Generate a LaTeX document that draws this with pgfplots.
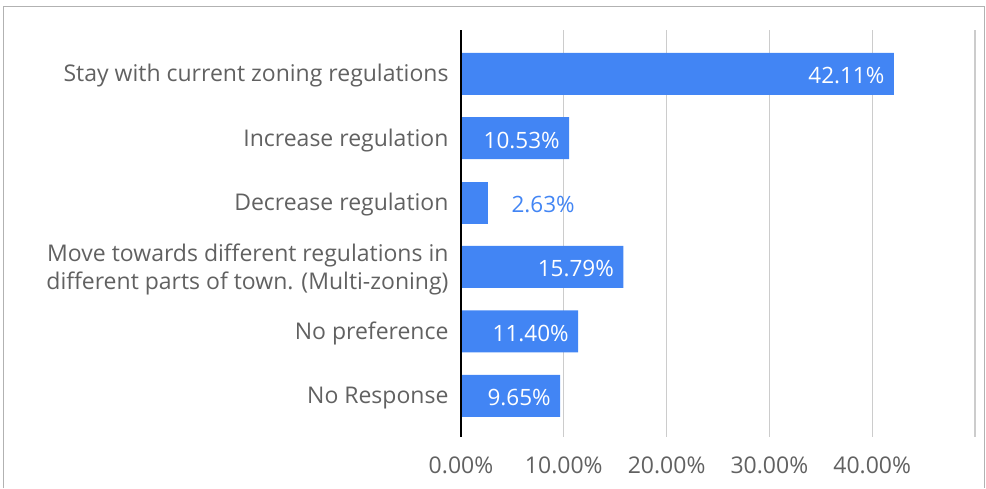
\documentclass[border=0pt]{standalone}
\usepackage{pgfplots}
\pgfplotsset{compat=1.18}
\usepackage{fontspec}
\setmainfont{Open Sans}
\definecolor{barblue}{HTML}{4285F4}
\definecolor{lbl}{HTML}{616161}
\definecolor{gridc}{HTML}{CCCCCC}
\begin{document}
\begin{tikzpicture}
\begin{axis}[name=ax, scale only axis,
  width=514pt, height=407pt,
  xmin=0, xmax=50, ymin=-0.68, ymax=5.64, y dir=reverse,
  xbar, bar width=42pt, bar shift=0pt,
  axis line style={draw=none}, tick style={draw=none}, major tick length=0pt,
  xtick={0,10,20,30,40,50},
  xticklabels={0.00\%,10.00\%,20.00\%,30.00\%,40.00\%,},
  xmajorgrids, grid style={color=gridc, line width=1.3pt},
  xticklabel style={font=\fontsize{23}{26}\selectfont, text=lbl, yshift=-16pt},
  ytick={0,1,2,3,4,5},
  yticklabels={Stay with current zoning regulations, Increase regulation, Decrease regulation, {Move towards different regulations in\\different parts of town. (Multi-zoning)}, No preference, No Response},
  yticklabel style={align=right, font=\fontsize{23}{28}\selectfont, text=lbl, xshift=-9pt, yshift=-2pt},
  point meta=x,
  clip=false,
]
\addplot[fill=barblue, draw=none,
  nodes near coords={\pgfmathprintnumber[fixed,fixed zerofill,precision=2,assume math mode=true]{\pgfplotspointmeta}\%},
  every node near coord/.append style={anchor=east, xshift=-6pt, yshift=-2pt, text=white, font=\fontsize{22.5}{26}\selectfont}]
  coordinates {(42.11,0) (10.53,1) (15.79,3) (11.40,4) (9.65,5)};
\addplot[fill=barblue, draw=none,
  nodes near coords={\pgfmathprintnumber[fixed,fixed zerofill,precision=2,assume math mode=true]{\pgfplotspointmeta}\%},
  every node near coord/.append style={anchor=west, xshift=20pt, yshift=-2pt, text=barblue, font=\fontsize{22.5}{26}\selectfont}]
  coordinates {(2.63,2)};
\draw[black, line width=1.3pt] (axis cs:0,-0.68) -- (axis cs:0,5.64);
\end{axis}
\pgfresetboundingbox
\path[use as bounding box] ([shift={(-461pt,-51pt)}]ax.south west) rectangle ([shift={(525pt,437pt)}]ax.south west);
\draw[color=black!30, line width=1pt] ([shift={(-457.5pt,-51pt)}]ax.south west) -- ([shift={(-457.5pt,430.5pt)}]ax.south west) -- ([shift={(523.5pt,430.5pt)}]ax.south west) -- ([shift={(523.5pt,-51pt)}]ax.south west);
\end{tikzpicture}
\end{document}
